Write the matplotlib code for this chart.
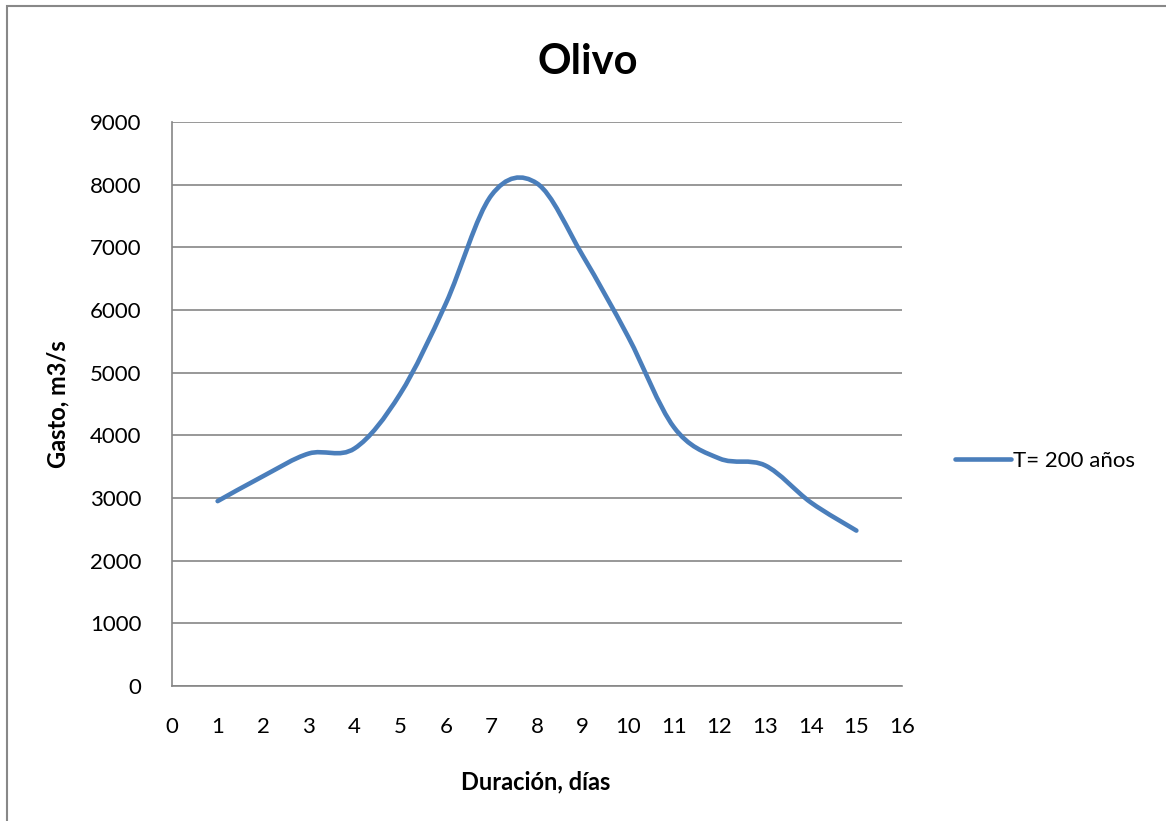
import matplotlib.pyplot as plt
import numpy as np
from matplotlib.path import Path
from matplotlib.patches import PathPatch, Rectangle
from matplotlib.lines import Line2D

# data
dias = [1, 2, 3, 4, 5, 6, 7, 8, 9, 10, 11, 12, 13, 14, 15]
gasto = [2950, 3350, 3710, 3790, 4660, 6100, 7830, 8020, 6870, 5570, 4130, 3630, 3520, 2930, 2480]
serie = 'T= 200 años'
yticks = [0, 1000, 2000, 3000, 4000, 5000, 6000, 7000, 8000, 9000]
xticks = list(range(0, 17))

plt.rcParams['font.family'] = ['Lato', 'DejaVu Sans']

fig = plt.figure(figsize=(11.66, 8.21), dpi=100)
ax = fig.add_axes([172/1166, 1-686/821, 730/1166, 564/821])

# smoothed line like Excel (Catmull-Rom bezier through the points)
pts = np.column_stack([dias, gasto]).astype(float)
n = len(pts)
verts = [pts[0]]
codes = [Path.MOVETO]
for i in range(n - 1):
    p0 = pts[i - 1] if i > 0 else pts[i]
    p1 = pts[i]
    p2 = pts[i + 1]
    p3 = pts[i + 2] if i + 2 < n else pts[i + 1]
    c1 = p1 + (p2 - p0) / 6
    c2 = p2 - (p3 - p1) / 6
    verts += [c1, c2, p2]
    codes += [Path.CURVE4] * 3
color = '#4a7ebb'
patch = PathPatch(Path(verts, codes), fill=False, edgecolor=color, lw=3.3,
                  capstyle='round', joinstyle='round', zorder=3)
ax.add_patch(patch)

ax.set_xlim(0, 16)
ax.set_ylim(0, 9000)
ax.set_xticks(xticks)
ax.set_yticks(yticks)
ax.tick_params(length=0, labelsize=16, colors='black')
ax.tick_params(axis='y', pad=22)
ax.tick_params(axis='x', pad=22)
ax.grid(axis='y', color='#868686', lw=1.2)
ax.set_axisbelow(True)
for s in ['top', 'right']:
    ax.spines[s].set_visible(False)
for s in ['left', 'bottom']:
    ax.spines[s].set_color('#868686')
    ax.spines[s].set_linewidth(1.2)

fig.text(588/1166, 1-62/821, 'Olivo', fontsize=30, fontweight='bold', ha='center', va='center')
fig.text(536/1166, 1-782/821, 'Duración, días', fontsize=17, fontweight='bold', ha='center', va='center')
fig.text(58/1166, 1-404/821, 'Gasto, m3/s', fontsize=17, fontweight='bold', ha='center', va='center', rotation=90)

handle = Line2D([], [], color=color, lw=3.3, solid_capstyle='round')
fig.legend([handle], [serie], loc='center left', bbox_to_anchor=(955/1166, 1-461/821),
           frameon=False, fontsize=16, handlelength=2.5, handletextpad=0.1,
           borderpad=0, borderaxespad=0)

# chart area border
fig.patches.append(Rectangle((7/1166, -0.05), 1.1, 1.05 - 6/821, transform=fig.transFigure,
                             fill=False, edgecolor='#888888', lw=1.5))

fig.savefig('out.png', dpi=100)
